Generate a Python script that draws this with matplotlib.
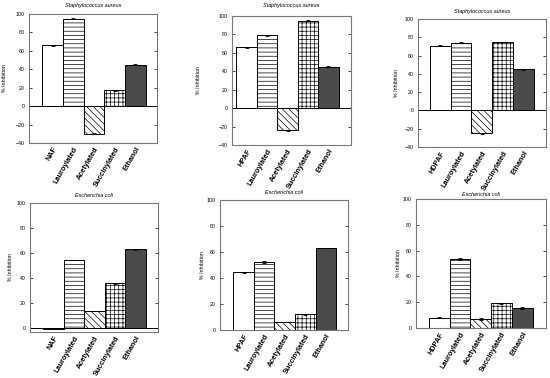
import matplotlib
matplotlib.use("Agg")
import matplotlib.pyplot as plt

plt.rcParams['font.family'] = ['Liberation Sans', 'DejaVu Sans']
plt.rcParams['hatch.linewidth'] = 0.5

# datos
treatments = ["Lauroylated", "Acetylated", "Succinylated", "Ethanol"]
flours = ["NAF", "HPAF", "HDPAF"]

saureus_naf = [66, 95, -30, 17, 45]
saureus_hpaf = [66, 79, -24, 95, 45]
saureus_hdpaf = [71, 74, -25, 75, 45]
ecoli_naf = [-0.6, 54.5, 13.5, 36, 63]
ecoli_hpaf = [44.5, 52, 6, 12, 63]
ecoli_hdpaf = [8, 53.5, 7, 19, 15.5]

saureus_naf_err = [0.5, 0.5, 0.5, 0.5, 0.5]
saureus_hpaf_err = [0.5, 0.4, 0.4, 0.8, 0.4]
saureus_hdpaf_err = [0.6, 0.5, 0.4, 0.3, 0.4]
ecoli_naf_err = [0.3, 0.3, 0.2, 0.4, 0.4]
ecoli_hpaf_err = [0.4, 0.7, 0.2, 0.3, 0.3]
ecoli_hdpaf_err = [0.3, 0.5, 0.7, 0.3, 0.4]

fills = ["white", "white", "white", "white", "#4a4a4a"]
hatches = [None, "----", "\\\\\\\\\\", "++++", None]

fig = plt.figure(figsize=(5.5, 3.78), dpi=100)
W, H = 550, 378


def panel(box, vals, errs, flour, title, ylim, yticks, xlim, title_y, ylab_x):
    l, r, t, b = box
    ax = fig.add_axes([l / W, 1 - b / H, (r - l) / W, (b - t) / H])
    labels = [flour] + treatments
    x = range(len(vals))
    for i in x:
        ax.bar(i, vals[i], width=1.0, color=fills[i], edgecolor="black",
               linewidth=0.7, hatch=hatches[i], zorder=2)
    ax.errorbar(list(x), vals, yerr=errs, fmt="none", ecolor="black",
                elinewidth=0.6, capsize=1.2, capthick=0.6, zorder=3)
    ax.axhline(0, color="black", linewidth=0.7, zorder=1)
    ax.set_xlim(*xlim)
    ax.set_ylim(*ylim)
    ax.set_yticks(yticks)
    ax.set_xticks(list(x))
    ax.set_xticklabels(labels, rotation=60, ha="right", rotation_mode="anchor",
                       fontsize=5.2, fontweight="bold")
    ax.tick_params(axis="x", length=0, pad=2)
    ax.tick_params(axis="y", direction="in", length=2, width=0.5,
                   labelsize=3.8, right=True, pad=3)
    for s in ax.spines.values():
        s.set_color("#777777")
        s.set_linewidth(0.8)
    fig.text((l + r) / 2 / W, 1 - title_y / H, title, fontsize=4, style="italic",
             ha="center", va="center")
    fig.text(ylab_x / W, 1 - (t + b) / 2 / H, "% Inhibition", fontsize=3.8,
             rotation=90, ha="center", va="center")
    return ax


sa_ticks = [-40, -20, 0, 20, 40, 60, 80, 100]
ec_ticks = [0, 20, 40, 60, 80, 100]

panel((29, 157, 14, 143), saureus_naf, saureus_naf_err, flours[0],
      "Staphylococcus aureus", (-40, 100), sa_ticks, (-1.15, 5.05), 6, 5)
panel((232, 351, 16, 145), saureus_hpaf, saureus_hpaf_err, flours[1],
      "Staphylococcus aureus", (-40, 100), sa_ticks, (-0.71, 5.1), 6, 198)
panel((418, 546, 19, 147), saureus_hdpaf, saureus_hdpaf_err, flours[2],
      "Staphylococcus aureus", (-40, 100), sa_ticks, (-1.06, 5.08), 11, 397)
panel((30, 158, 203, 332), ecoli_naf, ecoli_naf_err, flours[0],
      "Escherichia coli", (-3.2, 100), ec_ticks, (-1.15, 5.1), 195, 10)
panel((220, 348, 200, 330), ecoli_hpaf, ecoli_hpaf_err, flours[1],
      "Escherichia coli", (0, 100), ec_ticks, (-1.15, 5.08), 193, 203)
panel((416, 546, 199, 328), ecoli_hdpaf, ecoli_hdpaf_err, flours[2],
      "Escherichia coli", (0, 100), ec_ticks, (-1.13, 5.15), 194, 398)

fig.savefig("out.png", dpi=100)
